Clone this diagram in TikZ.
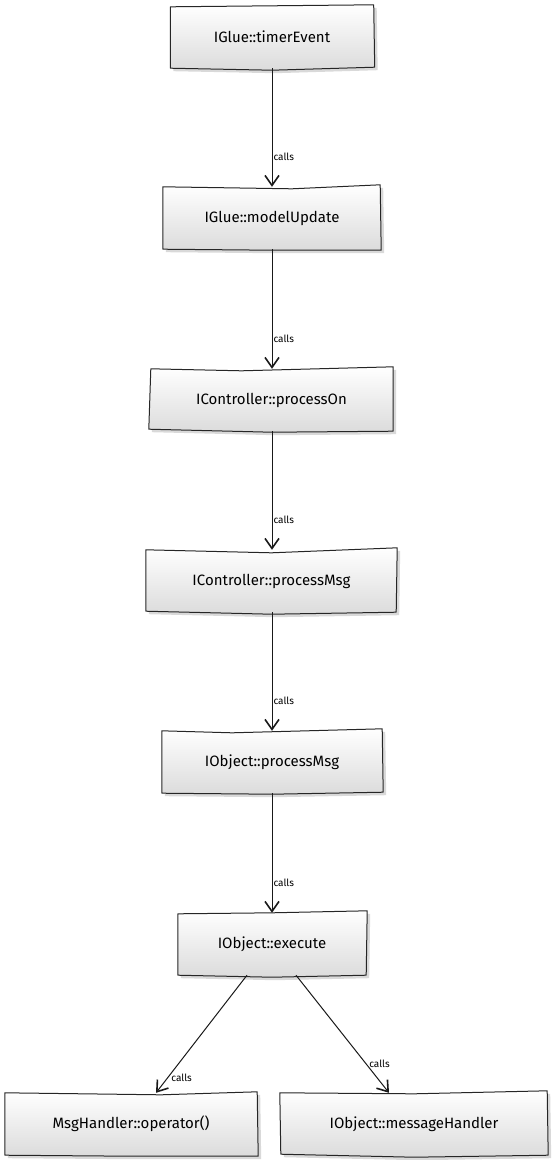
\documentclass[tikz,border=0pt]{standalone}
\usepackage{fontspec}
\setmainfont{Fira Sans}
\usetikzlibrary{arrows.meta,shadows,backgrounds}
\newcommand\skbox[7]{%
  \path[boxfill] ([shift={(#2)}]#1.north west) -- ([shift={(#3)}]#1.north) --
    ([shift={(#4)}]#1.north east) -- ([shift={(#5)}]#1.south east) --
    ([shift={(#6)}]#1.south) -- ([shift={(#7)}]#1.south west) -- cycle;}
\begin{document}
\begin{tikzpicture}[x=1pt,y=1pt,
  fnbox/.style={minimum height=62pt, inner sep=0pt, font=\fontsize{15}{17}\selectfont},
  boxfill/.style={draw=black!85, line width=1pt, line join=round, top color=white, bottom color=black!14,
    drop shadow={opacity=0.3, shadow xshift=3pt, shadow yshift=-3pt}},
  callarrow/.style={draw=black!90, line width=1pt, -{Straight Barb[length=10pt,width=14pt,line width=1.6pt]}},
  calllabel/.style={font=\fontsize{10}{11}\selectfont, inner sep=1pt}]
\useasboundingbox (0,0) rectangle (552,-1160);
\node[fnbox, minimum width=203pt] (te) at (272,-37) {IGlue::timerEvent};
\node[fnbox, minimum width=218pt] (mu) at (272,-218) {IGlue::modelUpdate};
\node[fnbox, minimum width=243pt] (po) at (271.5,-400) {IController::processOn};
\node[fnbox, minimum width=251pt] (pm) at (271.5,-581) {IController::processMsg};
\node[fnbox, minimum width=220pt] (op) at (272,-762) {IObject::processMsg};
\node[fnbox, minimum width=188pt] (ex) at (272,-944) {IObject::execute};
\node[fnbox, minimum width=252pt] (mh) at (131,-1124) {MsgHandler::operator()};
\node[fnbox, minimum width=268pt] (om) at (414,-1124) {IObject::messageHandler};

\begin{scope}[on background layer]
\skbox{te}{0,-1}{0,0}{0,1}{1,1}{0,-2}{0,0}
\skbox{mu}{0,0}{20,-2}{-1,2}{0,-1}{0,-1}{0,0}
\skbox{po}{1,0}{-30,-2}{0,2}{0,0}{0,-1}{-1,2}
\skbox{pm}{0,0}{0,-3}{0,2}{-1,0}{0,-2}{0,1}
\skbox{op}{0,0}{-40,-2}{0,2}{1,1}{0,-1}{0,0}
\skbox{ex}{0,-1}{0,0}{1,2}{0,0}{0,-2}{0,0}
\skbox{mh}{0,0}{30,-2}{0,1}{1,-1}{0,-1}{0,0}
\skbox{om}{0,0}{0,-1}{-1,2}{0,0}{0,-2}{1,1}
\end{scope}

\draw[callarrow] (te.south) -- node[calllabel, pos=0.75, anchor=west] (l1) {calls} (mu.north);
\draw[callarrow] (mu.south) -- node[calllabel, pos=0.75, anchor=west] (l2) {calls} (po.north -| mu.south);
\draw[callarrow] (po.south -| te.south) -- node[calllabel, pos=0.75, anchor=west] (l3) {calls} (pm.north -| te.south);
\draw[callarrow] (pm.south -| te.south) -- node[calllabel, pos=0.75, anchor=west] (l4) {calls} (op.north);
\draw[callarrow] (op.south) -- node[calllabel, pos=0.75, anchor=west] (l5) {calls} (ex.north);
\coordinate (exl) at ([xshift=-25pt]ex.south);
\coordinate (exr) at ([xshift=24pt]ex.south);
\coordinate (mht) at ([xshift=25pt]mh.north);
\coordinate (omt) at ([xshift=-25pt]om.north);
\draw[callarrow] (exl) -- node[calllabel, pos=0.87, anchor=west, xshift=2pt] (l6) {calls} (mht);
\draw[callarrow] (exr) -- node[calllabel, pos=0.75, anchor=west, xshift=2pt] (l7) {calls} (omt);
\end{tikzpicture}
\end{document}
